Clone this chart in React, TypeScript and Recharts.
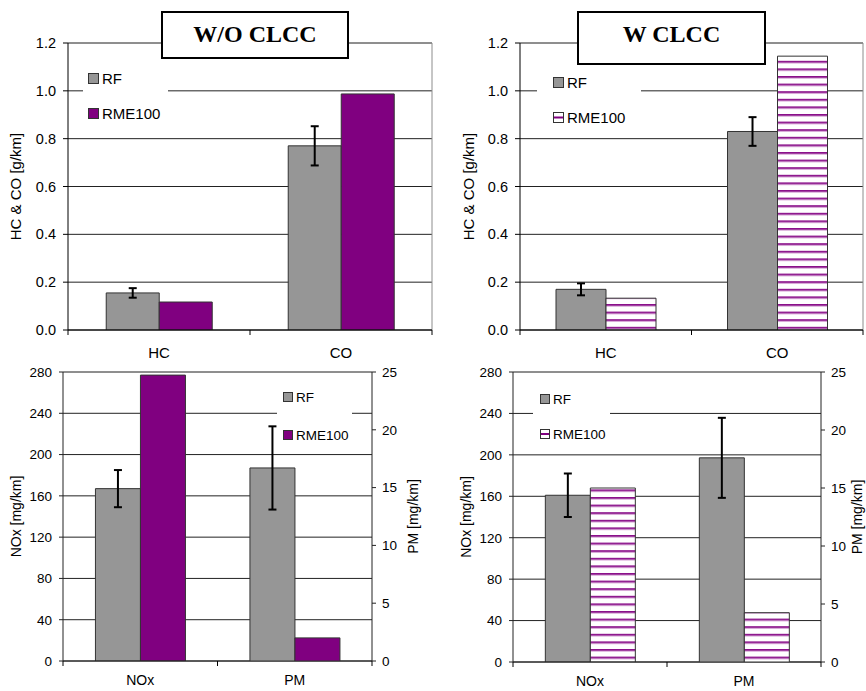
import { BarChart, Bar, XAxis, YAxis, CartesianGrid, ErrorBar, ReferenceLine, Legend, Label } from 'recharts'

const FONT = 'Liberation Sans, Arial, sans-serif'
const GRAY = '#969696'
const PURPLE = '#800080'

// categories
const hcCoCats = ['HC', 'CO']
const noxPmCats = ['NOx', 'PM']
const seriesNames = ['RF', 'RME100']

// tick labels
const hcCoTicks = [0, 0.2, 0.4, 0.6, 0.8, 1.0, 1.2]
const noxTicks = [0, 40, 80, 120, 160, 200, 240, 280]
const pmTicks = [0, 5, 10, 15, 20, 25]

// W/O CLCC, HC & CO [g/km]
const woHcCoRF = [0.155, 0.77]
const woHcCoRME = [0.117, 0.987]
const woHcCoErr = [0.02, 0.082]

// W CLCC, HC & CO [g/km]
const wHcCoRF = [0.17, 0.83]
const wHcCoRME = [0.133, 1.145]
const wHcCoErr = [0.025, 0.06]

// NOx [mg/km] (left axis), PM [mg/km] (right axis)
const woNoxPmRF = [167, 16.7]
const woNoxPmRME = [277, 2.0]
const woNoxPmErr = [18, 3.6]

const wNoxPmRF = [161, 17.6]
const wNoxPmRME = [168, 4.25]
const wNoxPmErr = [21, 3.45]

function VLabel({ viewBox, dx, text, size }: any) {
  const cx = viewBox.x + dx
  const cy = viewBox.y + viewBox.height / 2
  return (
    <text
      x={cx}
      y={cy}
      transform={`rotate(-90 ${cx} ${cy})`}
      textAnchor="middle"
      dominantBaseline="central"
      fontSize={size}
      fontFamily={FONT}
      fill="#000"
    >
      {text}
    </text>
  )
}

// category label plus tick marks at the category boundaries
function catTick(half: number, count: number, size: number, dy: number) {
  // eslint-disable-next-line @typescript-eslint/no-explicit-any
  return (p: any) => (
    <g>
      <line x1={p.x - half} x2={p.x - half} y1={p.y} y2={p.y + 5} stroke="#000" />
      {p.index === count - 1 && <line x1={p.x + half} x2={p.x + half} y1={p.y} y2={p.y + 5} stroke="#000" />}
      <text x={p.x} y={p.y + dy} textAnchor="middle" dominantBaseline="central" fontSize={size} fontFamily={FONT} fill="#000">
        {p.payload.value}
      </text>
    </g>
  )
}

// eslint-disable-next-line @typescript-eslint/no-explicit-any
const rightEdge = ({ offset }: any) => [offset.left + offset.width]

function Swatch({ hatched, fill, size }: { hatched: boolean; fill: string; size: number }) {
  return (
    <svg width={size + 1} height={size + 1} style={{ display: 'block' }}>
      <rect x={0.5} y={0.5} width={size} height={size} fill={hatched ? '#fff' : fill} stroke="#333" />
      {hatched && <rect x={1} y={size / 2 - 0.5} width={size - 1} height={2} fill={PURPLE} />}
    </svg>
  )
}

function LegendBox({ hatched, fontSize, gap, padLeft, swatch }: any) {
  const fills = [GRAY, PURPLE]
  return (
    <div style={{ display: 'flex', flexDirection: 'column', gap, paddingLeft: padLeft }}>
      {seriesNames.map((n, i) => (
        <div key={n} style={{ display: 'flex', alignItems: 'center', height: 20 }}>
          <Swatch hatched={hatched && i === 1} fill={fills[i]} size={swatch} />
          <span style={{ marginLeft: 3, fontSize, fontFamily: FONT, color: '#000' }}>{n}</span>
        </div>
      ))}
    </div>
  )
}

function Hatch({ id }: { id: string }) {
  return (
    <defs>
      <pattern id={id} patternUnits="userSpaceOnUse" width={8} height={7.6}>
        <rect width={8} height={7.6} fill="#fff" />
        <rect y={0} width={8} height={1.8} fill="#8a108a" />
        <rect y={1.8} width={8} height={1} fill="#dcb0dc" />
      </pattern>
    </defs>
  )
}

function HcCoPanel(props: any) {
  const { left, rf, rme, err, hatchId, plotLeft, plotRight, labelDx, legend } = props
  const W = 433
  const H = 365
  const half = (plotRight - plotLeft) / hcCoCats.length / 2
  const data = hcCoCats.map((cat, i) => ({ cat, rf: rf[i], rme: rme[i], err: err[i] }))
  return (
    <div style={{ position: 'absolute', left, top: 0 }}>
      <BarChart
        width={W}
        height={H}
        data={data}
        margin={{ top: 43, right: W - plotRight, left: 0, bottom: H - 330 - 30 }}
        barCategoryGap="21%"
        barGap={0}
      >
        {hatchId && <Hatch id={hatchId} />}
        <XAxis
          xAxisId="c"
          dataKey="cat"
          interval={0}
          height={30}
          tickLine={false}
          tickSize={0}
          tickMargin={0}
          axisLine={{ stroke: '#000' }}
          tick={catTick(half, hcCoCats.length, 15, 22)}
        />
        <YAxis
          yAxisId="l"
          width={plotLeft}
          domain={[0, 1.2]}
          ticks={hcCoTicks}
          interval={0}
          allowDataOverflow
          tickFormatter={(v: number) => v.toFixed(1)}
          tickSize={5}
          tickMargin={7}
          axisLine={{ stroke: '#000' }}
          tickLine={{ stroke: '#000' }}
          tick={{ fill: '#000', fontSize: 14.5, fontFamily: FONT }}
        >
          <Label content={(p: any) => <VLabel {...p} dx={labelDx} text="HC & CO [g/km]" size={15} />} />
        </YAxis>
        <CartesianGrid xAxisId="c" yAxisId="l" vertical={false} stroke="#222" />
        <CartesianGrid xAxisId="c" yAxisId="l" horizontal={false} stroke="#8c8c8c" verticalCoordinatesGenerator={rightEdge} />
        <ReferenceLine xAxisId="c" yAxisId="l" y={1.2} stroke="#8c8c8c" />
        <Legend
          layout="vertical"
          align="center"
          verticalAlign="middle"
          wrapperStyle={{ left: legend.left, top: legend.top, width: legend.width, background: '#fff' }}
          content={() => <LegendBox hatched={!!hatchId} fontSize={15} gap={legend.gap} padLeft={legend.pad} swatch={10} />}
        />
        <Bar xAxisId="c" yAxisId="l" dataKey="rf" name="RF" fill={GRAY} stroke="#333" isAnimationActive={false}>
          <ErrorBar dataKey="err" direction="y" width={4} strokeWidth={2} stroke="#000" />
        </Bar>
        <Bar
          xAxisId="c"
          yAxisId="l"
          dataKey="rme"
          name="RME100"
          fill={hatchId ? `url(#${hatchId})` : PURPLE}
          stroke="#333"
          isAnimationActive={false}
        />
      </BarChart>
    </div>
  )
}

function NoxPmPanel(props: any) {
  const { left, rf, rme, err, hatchId, plotLeft, plotRight, plotBottom, leftDx, rightDx, legend } = props
  const W = 433
  const H = 346
  const top = 27
  const rightW = W - plotRight
  const half = (plotRight - plotLeft) / noxPmCats.length / 2
  const fill = hatchId ? `url(#${hatchId})` : PURPLE
  const noxData = noxPmCats.map((cat, i) => (i === 0 ? { cat, rf: rf[i], rme: rme[i], err: err[i] } : { cat }))
  const pmData = noxPmCats.map((cat, i) => (i === 1 ? { cat, rf: rf[i], rme: rme[i], err: err[i] } : { cat }))
  return (
    <div style={{ position: 'absolute', left, top: 345 }}>
      <div style={{ position: 'absolute', left: 0, top: 0 }}>
        <BarChart
          width={W}
          height={H}
          data={noxData}
          margin={{ top, right: 0, left: 0, bottom: H - plotBottom - 30 }}
          barCategoryGap="21%"
          barGap={0}
        >
          {hatchId && <Hatch id={hatchId} />}
          <XAxis
            xAxisId="c"
            dataKey="cat"
            interval={0}
            height={30}
            tickLine={false}
            tickSize={0}
            tickMargin={0}
            axisLine={{ stroke: '#222' }}
            tick={catTick(half, noxPmCats.length, 14, 19)}
          />
          <YAxis
            yAxisId="l"
            width={plotLeft}
            domain={[0, 280]}
            ticks={noxTicks}
            interval={0}
            allowDataOverflow
            tickSize={4}
            tickMargin={7}
            axisLine={{ stroke: '#222' }}
            tickLine={{ stroke: '#222' }}
            tick={{ fill: '#000', fontSize: 13.5, fontFamily: FONT }}
          >
            <Label content={(p: any) => <VLabel {...p} dx={leftDx} text="NOx [mg/km]" size={14} />} />
          </YAxis>
          <YAxis
            yAxisId="r"
            orientation="right"
            width={rightW}
            domain={[0, 25]}
            ticks={pmTicks}
            interval={0}
            allowDataOverflow
            tickSize={4}
            tickMargin={6}
            axisLine={{ stroke: '#222' }}
            tickLine={{ stroke: '#222' }}
            tick={{ fill: '#000', fontSize: 13.5, fontFamily: FONT }}
          >
            <Label content={(p: any) => <VLabel {...p} dx={rightDx} text="PM [mg/km]" size={14} />} />
          </YAxis>
          <CartesianGrid xAxisId="c" yAxisId="l" vertical={false} stroke="#222" />
          <ReferenceLine xAxisId="c" yAxisId="l" y={280} stroke="#8c8c8c" />
          <Legend
            layout="vertical"
            align="center"
            verticalAlign="middle"
            wrapperStyle={{ left: legend.left, top: legend.top, width: legend.width, background: '#fff' }}
            content={() => <LegendBox hatched={!!hatchId} fontSize={13.5} gap={legend.gap} padLeft={legend.pad} swatch={9} />}
          />
          <Bar xAxisId="c" yAxisId="l" dataKey="rf" name="RF" fill={GRAY} stroke="#333" isAnimationActive={false}>
            <ErrorBar dataKey="err" direction="y" width={4} strokeWidth={2} stroke="#000" />
          </Bar>
          <Bar xAxisId="c" yAxisId="l" dataKey="rme" name="RME100" fill={fill} stroke="#333" isAnimationActive={false} />
        </BarChart>
      </div>
      <div style={{ position: 'absolute', left: 0, top: 0 }}>
        <BarChart
          width={W}
          height={H}
          data={pmData}
          margin={{ top, right: rightW, left: plotLeft, bottom: H - plotBottom }}
          barCategoryGap="21%"
          barGap={0}
        >
          <XAxis xAxisId="c" dataKey="cat" hide height={0} />
          <YAxis yAxisId="r" domain={[0, 25]} allowDataOverflow hide width={0} />
          <Bar xAxisId="c" yAxisId="r" dataKey="rf" fill={GRAY} stroke="#333" isAnimationActive={false}>
            <ErrorBar dataKey="err" direction="y" width={4} strokeWidth={2} stroke="#000" />
          </Bar>
          <Bar xAxisId="c" yAxisId="r" dataKey="rme" fill={fill} stroke="#333" isAnimationActive={false} />
        </BarChart>
      </div>
    </div>
  )
}

function TitleBox({ left, width, height, text }: any) {
  return (
    <div
      style={{
        position: 'absolute',
        left,
        top: 11,
        width: width - 4,
        height: height - 4,
        border: '2px solid #000',
        background: '#fff',
        textAlign: 'center',
        lineHeight: '42px',
        fontFamily: 'Liberation Serif, Times New Roman, serif',
        fontWeight: 'bold',
        fontSize: 24,
        color: '#000'
      }}
    >
      {text}
    </div>
  )
}

export default function App() {
  return (
    <div style={{ position: 'absolute', left: 0, top: 0, width: 866, height: 691, background: '#fff', overflow: 'hidden' }}>
      <HcCoPanel
        left={0}
        rf={woHcCoRF}
        rme={woHcCoRME}
        err={woHcCoErr}
        plotLeft={68}
        plotRight={432}
        labelDx={15}
        legend={{ left: 83, top: 68, width: 85, gap: 15, pad: 5 }}
      />
      <HcCoPanel
        left={433}
        rf={wHcCoRF}
        rme={wHcCoRME}
        err={wHcCoErr}
        hatchId="hatchTop"
        plotLeft={87}
        plotRight={430}
        labelDx={35}
        legend={{ left: 104, top: 72, width: 104, gap: 15, pad: 16 }}
      />
      <NoxPmPanel
        left={0}
        rf={woNoxPmRF}
        rme={woNoxPmRME}
        err={woNoxPmErr}
        plotLeft={63}
        plotRight={372}
        plotBottom={316}
        leftDx={16}
        rightDx={41}
        legend={{ left: 277, top: 42, width: 75, gap: 18, pad: 6 }}
      />
      <NoxPmPanel
        left={433}
        rf={wNoxPmRF}
        rme={wNoxPmRME}
        err={wNoxPmErr}
        hatchId="hatchBottom"
        plotLeft={80}
        plotRight={388}
        plotBottom={317}
        leftDx={33}
        rightDx={36}
        legend={{ left: 100, top: 44, width: 77, gap: 15, pad: 7 }}
      />
      <TitleBox left={161} width={188} height={48} text="W/O CLCC" />
      <TitleBox left={577} width={189} height={54} text="W CLCC" />
    </div>
  )
}
